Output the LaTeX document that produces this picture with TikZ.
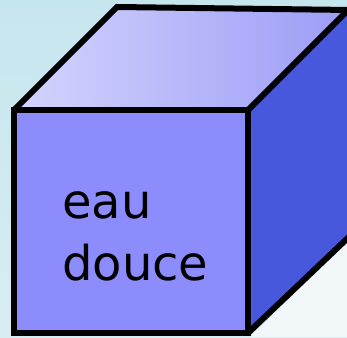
\documentclass[tikz,border=0pt]{standalone}
\usepackage{fontspec}
\setmainfont{DejaVu Sans}
\definecolor{bgblue}{HTML}{C6E6EE}
\definecolor{bgwhite}{HTML}{F2F7F9}
\definecolor{frontc}{HTML}{8C8CFC}
\definecolor{topl}{HTML}{D4D4FE}
\definecolor{topd}{HTML}{9C9CF6}
\definecolor{sidec}{HTML}{4858DC}
\tikzset{edge/.style={draw=black,line width=6pt,line join=miter}}
\begin{document}
\begin{tikzpicture}[x=1pt,y=-1pt]
\useasboundingbox (0,0) rectangle (347,337);
\clip (0,0) rectangle (347,337);
\shade[top color=bgblue,bottom color=bgblue!60!bgwhite] (0,0) rectangle (347,337);
\fill[bgwhite] (250,337) -- (350,240) -- (350,337) -- cycle;
% top face
\shade[left color=topl,right color=topd] (14,108) -- (117,7) -- (350,10) -- (248,110) -- cycle;
\draw[edge] (14,110) -- (117,7) -- (350,10);
% right face
\fill[sidec] (248,110) -- (350,10) -- (352,235) -- (248,333) -- cycle;
\draw[edge] (248,110) -- (346,12);
\draw[edge] (248,333) -- (352,234);
% front face
\filldraw[edge,fill=frontc] (14,110) rectangle (248,333);
\node[anchor=base west,inner sep=0,font=\fontsize{48}{62}\selectfont] (t1) at (62,218) {eau};
\node[anchor=base west,inner sep=0,font=\fontsize{48}{62}\selectfont] (t2) at (62,280) {douce};
\end{tikzpicture}
\end{document}
